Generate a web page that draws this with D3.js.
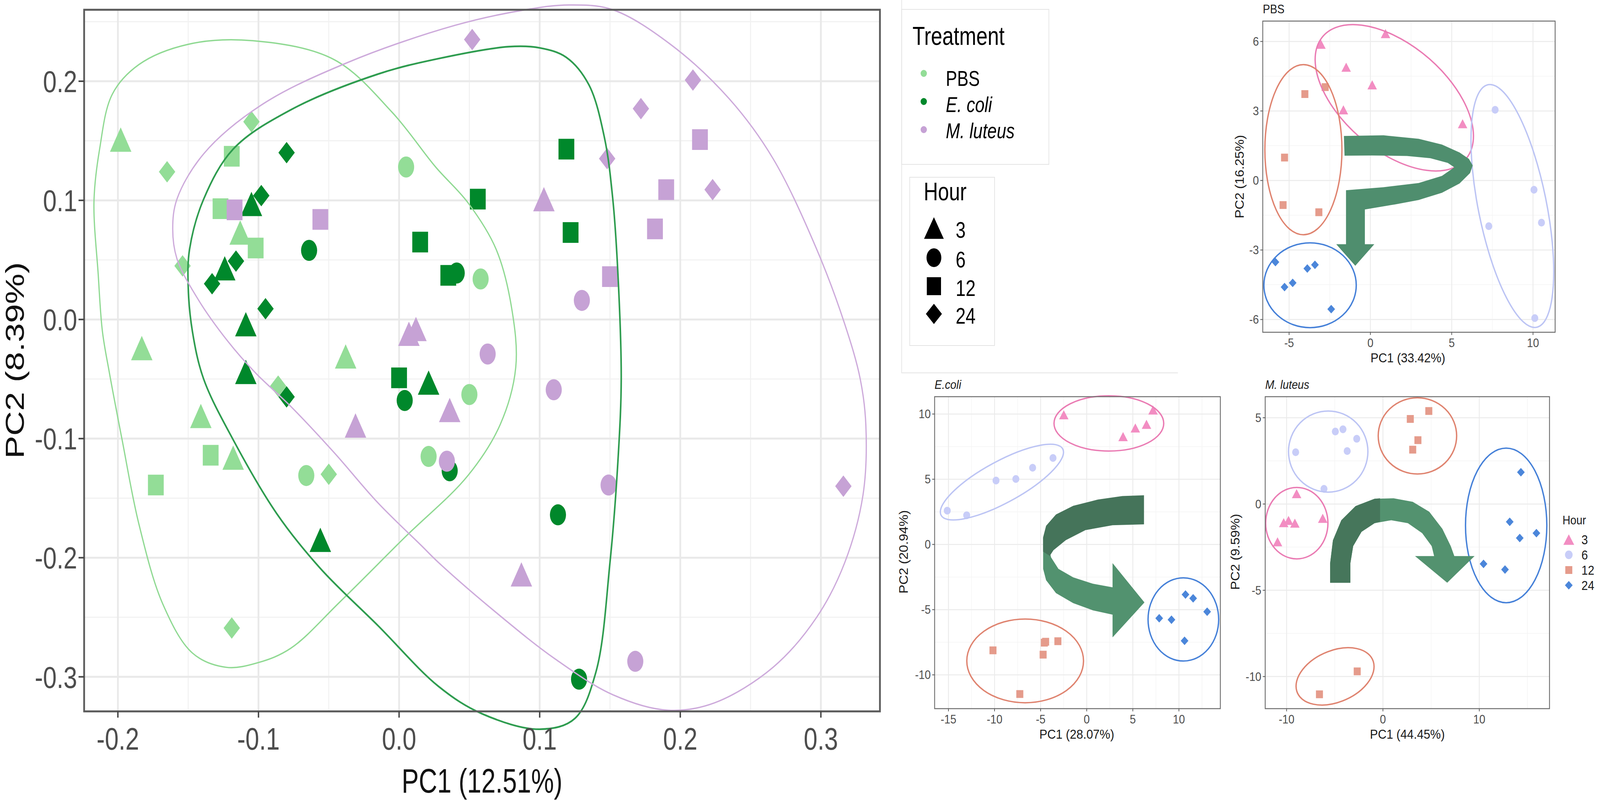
<!DOCTYPE html>
<html>
<head>
<meta charset="utf-8">
<script src="https://cdn.jsdelivr.net/npm/d3@7"></script>
<style>
  html, body { margin: 0; padding: 0; width: 100%; height: 100%; overflow: hidden; background: #fff; }
  svg { display: block; width: 100vw; height: 100vh; }
  text { font-family: "Liberation Sans", Arial, Helvetica, sans-serif; }
</style>
</head>
<body>
<svg id="fig" viewBox="0 0 4564 2049" preserveAspectRatio="none"></svg>
<script>
// ---- categories
const treatments = ['PBS', 'E. coli', 'M. luteus'];
const treatmentItalic = [false, true, true];
const treatmentFill = ['#93dd97', '#00882b', '#c6a2d5'];
const treatmentLine = ['#8fd992', '#2e9c4f', '#cdaadb'];
const hours = [3, 6, 12, 24];
const hourShape = { 3: 'triangle', 6: 'circle', 12: 'square', 24: 'diamond' };
const hourFill = ['#f28dc2', '#c8cdf8', '#e59b8b', '#4b86da'];
const hourLine = ['#ea7bb3', '#bcc4f4', '#df836f', '#4580d8'];

// ---- main PCA: [PC1, PC2, hour]
const pbsScores = [
  [-0.198, 0.151, 3], [-0.113, 0.073, 3], [-0.183, -0.024, 3], [-0.038, -0.031, 3], [-0.141, -0.081, 3], [-0.118, -0.116, 3],
  [0.005, 0.128, 6], [0.058, 0.034, 6], [0.050, -0.063, 6], [0.021, -0.115, 6], [-0.066, -0.131, 6],
  [-0.119, 0.137, 12], [-0.127, 0.093, 12], [-0.102, 0.060, 12], [-0.134, -0.114, 12], [-0.173, -0.139, 12],
  [-0.165, 0.124, 24], [-0.105, 0.166, 24], [-0.154, 0.045, 24], [-0.086, -0.056, 24], [-0.050, -0.130, 24], [-0.119, -0.259, 24]
];
const ecoliScores = [
  [-0.105, 0.097, 3], [-0.124, 0.043, 3], [-0.109, -0.004, 3], [-0.109, -0.044, 3], [0.021, -0.053, 3], [-0.056, -0.185, 3],
  [-0.064, 0.058, 6], [0.041, 0.039, 6], [0.004, -0.068, 6], [0.036, -0.127, 6], [0.113, -0.164, 6], [0.128, -0.302, 6],
  [0.015, 0.065, 12], [0.035, 0.037, 12], [0.000, -0.049, 12], [0.119, 0.143, 12], [0.056, 0.101, 12], [0.122, 0.073, 12],
  [-0.080, 0.140, 24], [-0.098, 0.104, 24], [-0.133, 0.030, 24], [-0.116, 0.049, 24], [-0.095, 0.009, 24], [-0.080, -0.065, 24]
];
const mluteusScores = [
  [0.007, -0.012, 3], [0.012, -0.008, 3], [-0.031, -0.089, 3], [0.036, -0.076, 3], [0.103, 0.101, 3], [0.087, -0.214, 3],
  [0.130, 0.016, 6], [0.063, -0.029, 6], [0.110, -0.059, 6], [0.034, -0.119, 6], [0.149, -0.139, 6], [0.168, -0.287, 6],
  [-0.117, 0.092, 12], [-0.056, 0.084, 12], [0.214, 0.151, 12], [0.190, 0.109, 12], [0.182, 0.076, 12], [0.150, 0.036, 12],
  [0.052, 0.235, 24], [0.209, 0.201, 24], [0.172, 0.177, 24], [0.148, 0.135, 24], [0.223, 0.109, 24], [0.316, -0.140, 24]
];

// outlines of the group envelopes
const pbsHull = [
  [-0.104, 0.234], [-0.046, 0.218], [-0.005, 0.174], [0.026, 0.128], [0.049, 0.098], [0.069, 0.059], [0.080, 0.010],
  [0.083, -0.040], [0.072, -0.088], [0.049, -0.131], [0.004, -0.183], [-0.042, -0.237], [-0.077, -0.276], [-0.100, -0.288],
  [-0.123, -0.292], [-0.147, -0.280], [-0.168, -0.239], [-0.185, -0.172], [-0.197, -0.101], [-0.206, -0.045], [-0.211, -0.010],
  [-0.214, 0.038], [-0.217, 0.099], [-0.213, 0.143], [-0.204, 0.189], [-0.185, 0.214], [-0.150, 0.231]
];
const ecoliHull = [
  [-0.077, 0.176], [-0.015, 0.206], [0.028, 0.219], [0.078, 0.229], [0.100, 0.228], [0.119, 0.220], [0.135, 0.197],
  [0.146, 0.153], [0.152, 0.101], [0.156, 0.030], [0.158, -0.050], [0.156, -0.112], [0.150, -0.204], [0.140, -0.296],
  [0.125, -0.335], [0.100, -0.344], [0.059, -0.331], [0.028, -0.308], [-0.015, -0.257], [-0.056, -0.209], [-0.087, -0.163],
  [-0.118, -0.101], [-0.139, -0.050], [-0.147, -0.010], [-0.150, 0.028], [-0.149, 0.059], [-0.139, 0.101], [-0.118, 0.143]
];
const mluteusHull = [
  [-0.098, 0.180], [-0.036, 0.216], [0.040, 0.247], [0.090, 0.260], [0.121, 0.264], [0.152, 0.260], [0.193, 0.231],
  [0.235, 0.185], [0.266, 0.135], [0.297, 0.059], [0.317, -0.004], [0.328, -0.050], [0.332, -0.089], [0.330, -0.147],
  [0.317, -0.204], [0.297, -0.250], [0.266, -0.292], [0.224, -0.322], [0.191, -0.328], [0.152, -0.315], [0.111, -0.285],
  [0.069, -0.246], [0.028, -0.204], [0.016, -0.190], [-0.015, -0.154], [-0.046, -0.112], [-0.077, -0.073], [-0.102, -0.045],
  [-0.122, -0.018], [-0.143, 0.017], [-0.158, 0.051], [-0.161, 0.076], [-0.158, 0.101], [-0.139, 0.139]
];

const mainXTicks = [-0.2, -0.1, 0, 0.1, 0.2, 0.3];
const mainXTickLabels = ['-0.2', '-0.1', '0.0', '0.1', '0.2', '0.3'];
const mainYTicks = [-0.3, -0.2, -0.1, 0, 0.1, 0.2];
const mainYTickLabels = ['-0.3', '-0.2', '-0.1', '0.0', '0.1', '0.2'];
const mainXMinor = [-0.15, -0.05, 0.05, 0.15, 0.25];
const mainYMinor = [-0.25, -0.15, -0.05, 0.05, 0.15, 0.25];

// ---- per-treatment PCAs, one array per hour
const pbs3 = [[-3.04, 5.88], [0.93, 6.34], [-1.49, 4.89], [0.11, 4.13], [-1.66, 3.05], [5.67, 2.45]];
const pbs6 = [[7.67, 3.05], [10.06, -0.40], [10.52, -1.82], [7.28, -1.97], [10.11, -5.94]];
const pbs12 = [[-4.03, 3.73], [-2.78, 4.03], [-5.28, 0.99], [-5.37, -1.06], [-3.17, -1.37]];
const pbs24 = [[-5.84, -3.52], [-3.88, -3.80], [-3.41, -3.64], [-4.78, -4.42], [-5.28, -4.60], [-2.41, -5.55]];

const ecoli3 = [[-2.49, 9.94], [3.94, 8.27], [5.27, 8.93], [6.48, 9.21], [7.19, 10.31]];
const ecoli6 = [[-15.13, 2.59], [-13.02, 2.24], [-9.84, 4.90], [-7.69, 5.02], [-5.87, 5.88], [-3.66, 6.63]];
const ecoli12 = [[-10.17, -8.12], [-7.26, -11.47], [-4.73, -8.45], [-4.60, -7.53], [-4.46, -7.46], [-3.13, -7.42]];
const ecoli24 = [[7.86, -5.66], [9.19, -5.77], [10.71, -3.84], [11.54, -4.13], [13.06, -5.16], [10.61, -7.39]];

const mlut3 = [[-8.96, 0.60], [-10.94, -2.19], [-10.30, -1.08], [-9.80, -0.95], [-9.14, -1.11], [-6.25, -0.83]];
const mlut6 = [[-9.06, 3.00], [-4.94, 4.20], [-4.15, 4.33], [-2.72, 3.78], [-3.71, 3.07], [-6.12, 0.88]];
const mlut12 = [[2.84, 4.93], [4.76, 5.39], [3.63, 3.70], [3.09, 3.15], [-2.67, -9.70], [-6.59, -11.03]];
const mlut24 = [[14.32, 1.84], [13.16, -1.03], [14.20, -1.97], [15.93, -1.69], [10.44, -3.47], [12.67, -3.80]];

// confidence ellipses: centre + two conjugate semi-axes, in data units
const pbsEllipses = [
  { hour: 3, c: [1.47, 3.57], a: [4.55, -2.50], b: [-1.73, -1.93] },
  { hour: 6, c: [8.73, -1.10], a: [1.52, -5.23], b: [-2.04, -0.36] },
  { hour: 12, c: [-4.12, 1.33], a: [2.37, 0], b: [0, 3.67] },
  { hour: 24, c: [-3.71, -4.52], a: [2.84, 0], b: [0, 1.83] }
];
const ecoliEllipses = [
  { hour: 3, c: [2.40, 9.28], a: [5.95, 0], b: [0, 2.12] },
  { hour: 6, c: [-9.20, 4.78], a: [6.62, 2.51], b: [0.89, -1.46] },
  { hour: 12, c: [-6.68, -8.93], a: [6.33, 0], b: [0, 3.21] },
  { hour: 24, c: [10.48, -5.75], a: [3.83, 0], b: [0, 3.19] }
];
const mlutEllipses = [
  { hour: 3, c: [-8.94, -1.11], a: [3.23, 0], b: [0, 2.07] },
  { hour: 6, c: [-5.68, 3.04], a: [4.12, 0], b: [0, 2.35] },
  { hour: 12, c: [3.58, 3.95], a: [4.07, 0], b: [0, 2.21] },
  { hour: 12, c: [-4.97, -9.99], a: [3.97, 0.86], b: [0.79, -1.42] },
  { hour: 24, c: [12.79, -1.24], a: [4.22, 0], b: [0, 4.48] }
];

// pasted arrows, outlines in each panel's data units
const pbsArrow = [
  [-1.63, 1.92], [0.81, 1.95], [2.97, 1.80], [4.40, 1.55], [5.48, 1.21], [6.06, 0.93], [6.29, 0.65], [6.13, 0.32],
  [5.48, -0.13], [4.40, -0.53], [2.97, -0.84], [1.53, -1.03], [-0.34, -1.25], [-0.34, -2.75], [0.24, -2.75],
  [-0.93, -3.68], [-2.10, -2.75], [-1.50, -2.75], [-1.50, -0.42], [0.81, -0.29], [2.97, -0.11], [4.40, 0.20],
  [5.16, 0.57], [4.76, 0.76], [3.69, 0.96], [2.25, 1.06], [0.09, 1.08], [-1.59, 1.07]
];
const ecoliArrowLight = [
  [-4.73, 0.55], [-4.73, -1.87], [-4.41, -2.74], [-3.34, -3.73], [-1.47, -4.50], [0.66, -5.05], [2.80, -5.38],
  [2.80, -7.13], [6.26, -4.45], [2.80, -1.43], [2.80, -3.29], [0.66, -3.01], [-1.47, -2.52], [-3.07, -1.87],
  [-3.87, -0.99], [-4.01, -0.55]
];
const ecoliArrowDark = [
  [6.21, 3.77], [6.21, 1.54], [2.80, 1.47], [-0.14, 1.10], [-2.27, 0.33], [-3.61, -0.44], [-4.01, -0.88],
  [-4.73, -0.55], [-4.73, 0.55], [-4.41, 1.43], [-3.34, 2.30], [-1.47, 2.96], [1.20, 3.44], [3.86, 3.71]
];
const mlutArrowLight = [
  [-5.48, -4.56], [-5.48, -3.43], [-5.19, -2.11], [-4.32, -0.94], [-2.84, -0.12], [-0.87, 0.30], [1.11, 0.33],
  [3.09, 0.13], [4.81, -0.45], [6.17, -1.44], [7.04, -2.44], [7.41, -3.02], [9.51, -3.02], [6.67, -4.56],
  [3.33, -3.02], [5.31, -3.02], [5.06, -2.44], [4.07, -1.69], [2.59, -1.11], [0.86, -0.94], [-0.87, -1.11],
  [-2.22, -1.61], [-3.09, -2.44], [-3.38, -3.43], [-3.38, -4.56]
];
const mlutArrowDark = [
  [-5.48, -4.56], [-5.48, -3.43], [-5.19, -2.11], [-4.32, -0.94], [-2.84, -0.12], [-0.87, 0.30], [-0.30, 0.33],
  [-0.30, -1.02], [-0.87, -1.11], [-2.22, -1.61], [-3.09, -2.44], [-3.38, -3.43], [-3.38, -4.56]
];

const svg = d3.select('#fig');
svg.append('rect').attr('width', 4564).attr('height', 2049).attr('fill', '#fff');

// a filled glyph centred on its bounding box
function glyph(shape, s) {
  const p = d3.path();
  if (shape === 'circle') {
    p.arc(0, 0, s / 2, 0, 2 * Math.PI);
  } else if (shape === 'square') {
    p.rect(-s / 2, -s / 2, s, s);
  } else if (shape === 'triangle') {
    const h = s * Math.sqrt(3) / 2;
    p.moveTo(0, -h / 2); p.lineTo(s / 2, h / 2); p.lineTo(-s / 2, h / 2); p.closePath();
  } else {
    p.moveTo(0, -s / 2); p.lineTo(s / 2, 0); p.lineTo(0, s / 2); p.lineTo(-s / 2, 0); p.closePath();
  }
  return p.toString();
}

// text with an optional horizontal squeeze (the figure was narrowed when pasted)
function txt(g, x, y, s, o) {
  let t = `translate(${x},${y})`;
  if (o.rot) t += ` rotate(${o.rot}) scale(1,${o.sx || 1})`;
  else if (o.sx) t += ` scale(${o.sx},1)`;
  return g.append('text')
    .attr('transform', t)
    .attr('text-anchor', o.anchor || 'start')
    .attr('font-size', o.size)
    .attr('font-style', o.italic ? 'italic' : null)
    .attr('fill', o.fill || '#000')
    .text(s);
}

/////////////////
// Main PCA plot
/////////////////
const mx = d3.scaleLinear().domain([-0.224, 0.342]).range([240, 2510]);
const my = d3.scaleLinear().domain([-0.329, 0.260]).range([1822, 25]);
const main = svg.append('g');
const MSQ = 0.85;
const mainSize = { triangle: 72, circle: 54, square: 53, diamond: 55 };

main.selectAll('.xminor').data(mainXMinor).join('line')
  .attr('x1', d => mx(d)).attr('x2', d => mx(d)).attr('y1', 25).attr('y2', 1822)
  .attr('stroke', '#f2f2f2').attr('stroke-width', 3);
main.selectAll('.yminor').data(mainYMinor).join('line')
  .attr('y1', d => my(d)).attr('y2', d => my(d)).attr('x1', 240).attr('x2', 2510)
  .attr('stroke', '#f2f2f2').attr('stroke-width', 3);
main.selectAll('.xmajor').data(mainXTicks).join('line')
  .attr('x1', d => mx(d)).attr('x2', d => mx(d)).attr('y1', 25).attr('y2', 1822)
  .attr('stroke', '#e9e9e9').attr('stroke-width', 5);
main.selectAll('.ymajor').data(mainYTicks).join('line')
  .attr('y1', d => my(d)).attr('y2', d => my(d)).attr('x1', 240).attr('x2', 2510)
  .attr('stroke', '#e9e9e9').attr('stroke-width', 5);

const groups = [pbsScores, ecoliScores, mluteusScores];
groups.forEach((rows, i) => {
  main.append('g').selectAll('path').data(rows).join('path')
    .attr('transform', d => `translate(${mx(d[0])},${my(d[1])}) scale(${MSQ},1)`)
    .attr('d', d => glyph(hourShape[d[2]], mainSize[hourShape[d[2]]]))
    .attr('fill', treatmentFill[i]);
});

const hullLine = d3.line().x(d => mx(d[0])).y(d => my(d[1])).curve(d3.curveCatmullRomClosed.alpha(0.5));
[pbsHull, ecoliHull, mluteusHull].forEach((h, i) => {
  main.append('path').attr('d', hullLine(h))
    .attr('fill', 'none').attr('stroke', treatmentLine[i])
    .attr('stroke-width', i === 1 ? 4.5 : 3.5);
});

main.append('rect').attr('x', 240).attr('y', 25).attr('width', 2270).attr('height', 1797)
  .attr('fill', 'none').attr('stroke', '#5a5a5a').attr('stroke-width', 5);

main.selectAll('.xtick').data(mainXTicks).join('line')
  .attr('x1', d => mx(d)).attr('x2', d => mx(d)).attr('y1', 1822).attr('y2', 1838)
  .attr('stroke', '#444').attr('stroke-width', 4);
main.selectAll('.ytick').data(mainYTicks).join('line')
  .attr('y1', d => my(d)).attr('y2', d => my(d)).attr('x1', 224).attr('x2', 240)
  .attr('stroke', '#444').attr('stroke-width', 4);
mainXTicks.forEach((v, i) => txt(main, mx(v), 1920, mainXTickLabels[i], { size: 80, anchor: 'middle', sx: 0.88, fill: '#4d4d4d' }));
mainYTicks.forEach((v, i) => txt(main, 220, my(v) + 28, mainYTickLabels[i], { size: 78, anchor: 'end', sx: 0.9, fill: '#4d4d4d' }));
txt(main, 1375, 2030, 'PC1 (12.51%)', { size: 88, anchor: 'middle', sx: 0.83, fill: '#111' });
txt(main, 68, 923, 'PC2 (8.39%)', { size: 88, anchor: 'middle', rot: -90, sx: 0.85, fill: '#111' });

/////////////////
// Main legends
/////////////////
const leg = svg.append('g');
leg.append('path').attr('d', 'M2572,0V955H3360').attr('fill', 'none').attr('stroke', '#e4e4e4').attr('stroke-width', 2);
leg.append('rect').attr('x', 2572).attr('y', 24).attr('width', 420).attr('height', 397)
  .attr('fill', 'none').attr('stroke', '#e4e4e4').attr('stroke-width', 2);
txt(leg, 2603, 115, 'Treatment', { size: 66, sx: 0.88 });
treatments.forEach((t, i) => {
  leg.append('circle').attr('cx', 2635).attr('cy', 188 + i * 72).attr('r', 9).attr('fill', treatmentFill[i]);
  txt(leg, 2698, 220 + i * 67, t, { size: 55, sx: 0.88, italic: treatmentItalic[i] });
});
leg.append('rect').attr('x', 2595).attr('y', 454).attr('width', 242).attr('height', 431)
  .attr('fill', 'none').attr('stroke', '#e4e4e4').attr('stroke-width', 2);
txt(leg, 2635, 513, 'Hour', { size: 64, sx: 0.88 });
const legSize = { triangle: 64, circle: 48, square: 46, diamond: 52 };
const legRowY = [584, 660, 733, 804];
hours.forEach((h, i) => {
  leg.append('path')
    .attr('transform', `translate(2664,${legRowY[i]}) scale(0.88,1)`)
    .attr('d', glyph(hourShape[h], legSize[hourShape[h]]))
    .attr('fill', '#000');
  txt(leg, 2726, legRowY[i] + 25, String(h), { size: 58, sx: 0.88 });
});

/////////////////
// Small panels
/////////////////
const smallSize = { triangle: 27, circle: 20, square: 20, diamond: 22 };

function smallPanel(p) {
  const g = svg.append('g');
  const [xl, xr] = p.x.range();
  const [yb, yt] = p.y.range();
  g.selectAll('.xm').data(p.xMinor).join('line')
    .attr('x1', d => p.x(d)).attr('x2', d => p.x(d)).attr('y1', yt).attr('y2', yb)
    .attr('stroke', '#f4f4f4').attr('stroke-width', 1.5);
  g.selectAll('.ym').data(p.yMinor).join('line')
    .attr('y1', d => p.y(d)).attr('y2', d => p.y(d)).attr('x1', xl).attr('x2', xr)
    .attr('stroke', '#f4f4f4').attr('stroke-width', 1.5);
  g.selectAll('.xM').data(p.xTicks).join('line')
    .attr('x1', d => p.x(d)).attr('x2', d => p.x(d)).attr('y1', yt).attr('y2', yb)
    .attr('stroke', '#ebebeb').attr('stroke-width', 2.5);
  g.selectAll('.yM').data(p.yTicks).join('line')
    .attr('y1', d => p.y(d)).attr('y2', d => p.y(d)).attr('x1', xl).attr('x2', xr)
    .attr('stroke', '#ebebeb').attr('stroke-width', 2.5);

  p.series.forEach((pts, i) => {
    g.append('g').selectAll('path').data(pts).join('path')
      .attr('transform', d => `translate(${p.x(d[0])},${p.y(d[1])})`)
      .attr('d', glyph(hourShape[hours[i]], smallSize[hourShape[hours[i]]]))
      .attr('fill', hourFill[i]);
  });

  // unit circle mapped through the ellipse's axes in pixel space
  p.ellipses.forEach(e => {
    const cx = p.x(e.c[0]), cy = p.y(e.c[1]);
    const ax = p.x(e.c[0] + e.a[0]) - cx, ay = p.y(e.c[1] + e.a[1]) - cy;
    const bx = p.x(e.c[0] + e.b[0]) - cx, by = p.y(e.c[1] + e.b[1]) - cy;
    g.append('circle').attr('r', 1)
      .attr('transform', `matrix(${ax},${ay},${bx},${by},${cx},${cy})`)
      .attr('vector-effect', 'non-scaling-stroke')
      .attr('fill', 'none').attr('stroke', hourLine[hours.indexOf(e.hour)]).attr('stroke-width', 3.5);
  });

  const shape = d3.line().x(d => p.x(d[0])).y(d => p.y(d[1]));
  p.arrows.forEach(a => g.append('path').attr('d', shape(a.pts) + 'Z').attr('fill', a.fill));

  g.append('rect').attr('x', xl).attr('y', yt).attr('width', xr - xl).attr('height', yb - yt)
    .attr('fill', 'none').attr('stroke', '#6e6e6e').attr('stroke-width', 2.5);
  g.selectAll('.xt').data(p.xTicks).join('line')
    .attr('x1', d => p.x(d)).attr('x2', d => p.x(d)).attr('y1', yb).attr('y2', yb + 7)
    .attr('stroke', '#555').attr('stroke-width', 2);
  g.selectAll('.yt').data(p.yTicks).join('line')
    .attr('y1', d => p.y(d)).attr('y2', d => p.y(d)).attr('x1', xl - 7).attr('x2', xl)
    .attr('stroke', '#555').attr('stroke-width', 2);
  p.xTicks.forEach(v => txt(g, p.x(v), yb + 38, String(v), { size: 31, anchor: 'middle', fill: '#4d4d4d' }));
  p.yTicks.forEach(v => txt(g, xl - 11, p.y(v) + 11, String(v), { size: 31, anchor: 'end', fill: '#4d4d4d' }));
  txt(g, (xl + xr) / 2 + p.xTitleShift, yb + 77, p.xTitle, { size: 34, anchor: 'middle', fill: '#1a1a1a' });
  txt(g, p.yTitleX, (yt + yb) / 2 + p.yTitleShift, p.yTitle, { size: 34, anchor: 'middle', rot: -90, fill: '#1a1a1a' });
  txt(g, xl, yt - 20, p.title, { size: 31, italic: p.italic, fill: '#1a1a1a' });
}

smallPanel({
  x: d3.scaleLinear().domain([-6.62, 11.36]).range([3602, 4436]),
  y: d3.scaleLinear().domain([-6.55, 6.88]).range([851, 54]),
  xTicks: [-5, 0, 5, 10], yTicks: [-6, -3, 0, 3, 6],
  xMinor: [-2.5, 2.5, 7.5], yMinor: [-4.5, -1.5, 1.5, 4.5],
  series: [pbs3, pbs6, pbs12, pbs24], ellipses: pbsEllipses,
  arrows: [{ pts: pbsArrow, fill: '#4f8e6e' }],
  title: 'PBS', italic: false,
  xTitle: 'PC1 (33.42%)', xTitleShift: -3, yTitle: 'PC2 (16.25%)', yTitleX: 3548, yTitleShift: 0
});

smallPanel({
  x: d3.scaleLinear().domain([-16.5, 14.49]).range([2666, 3481]),
  y: d3.scaleLinear().domain([-12.59, 11.33]).range([1815, 1016]),
  xTicks: [-15, -10, -5, 0, 5, 10], yTicks: [-10, -5, 0, 5, 10],
  xMinor: [-12.5, -7.5, -2.5, 2.5, 7.5, 12.5], yMinor: [-7.5, -2.5, 2.5, 7.5],
  series: [ecoli3, ecoli6, ecoli12, ecoli24], ellipses: ecoliEllipses,
  arrows: [{ pts: ecoliArrowLight, fill: '#52926f' }, { pts: ecoliArrowDark, fill: '#45745a' }],
  title: 'E.coli', italic: true,
  xTitle: 'PC1 (28.07%)', xTitleShift: -2, yTitle: 'PC2 (20.94%)', yTitleX: 2589, yTitleShift: -2
});

smallPanel({
  x: d3.scaleLinear().domain([-12.22, 17.29]).range([3609, 4420]),
  y: d3.scaleLinear().domain([-11.86, 6.22]).range([1815, 1016]),
  xTicks: [-10, 0, 10], yTicks: [-10, -5, 0, 5],
  xMinor: [-5, 5, 15], yMinor: [-7.5, -2.5, 2.5],
  series: [mlut3, mlut6, mlut12, mlut24], ellipses: mlutEllipses,
  arrows: [{ pts: mlutArrowLight, fill: '#53926f' }, { pts: mlutArrowDark, fill: '#46765b' }],
  title: 'M. luteus', italic: true,
  xTitle: 'PC1 (44.45%)', xTitleShift: 0, yTitle: 'PC2 (9.59%)', yTitleX: 3536, yTitleShift: -2
});

// hour legend beside the M. luteus panel
const hl = svg.append('g');
txt(hl, 4457, 1343, 'Hour', { size: 31, fill: '#1a1a1a' });
const hlSize = { triangle: 31, circle: 22, square: 20, diamond: 22 };
hours.forEach((h, i) => {
  const yy = 1382 + i * 39;
  hl.append('path').attr('transform', `translate(4475,${yy})`)
    .attr('d', glyph(hourShape[h], hlSize[hourShape[h]])).attr('fill', hourFill[i]);
  txt(hl, 4511, yy + 12, String(h), { size: 33, fill: '#1a1a1a' });
});
</script>
</body>
</html>
